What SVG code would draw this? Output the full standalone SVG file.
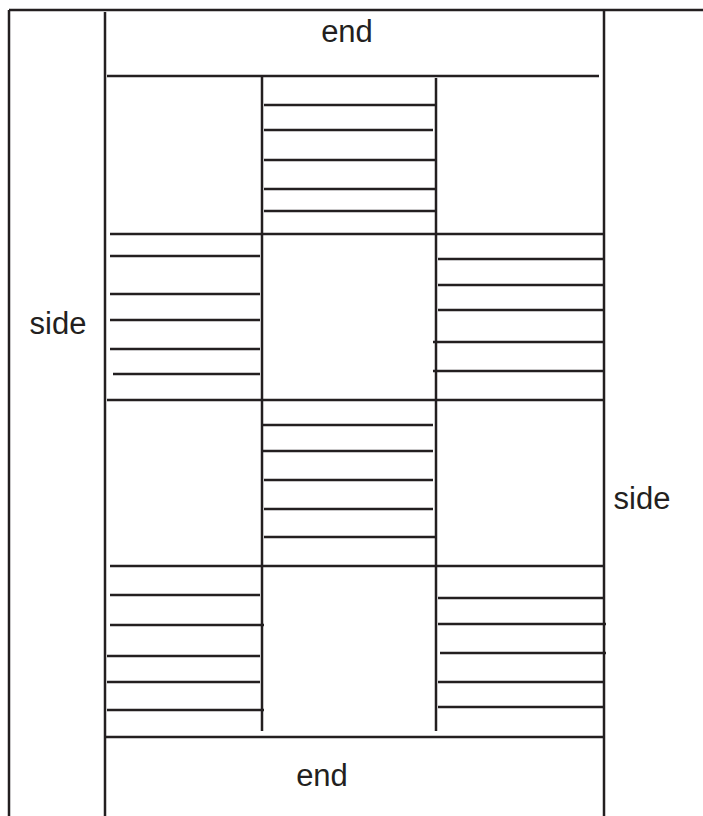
<svg xmlns="http://www.w3.org/2000/svg" width="703" height="816" viewBox="0 0 703 816">
<style>
line{stroke:#231f20;stroke-width:2.5;fill:none}
text{font-family:"Liberation Sans",Arial,sans-serif;font-size:31px;fill:#231f20;text-anchor:middle}
</style>
<rect x="0" y="0" width="703" height="816" fill="#ffffff"/>
<g id="frame">
<line x1="9" y1="10" x2="703" y2="10"/>
<line x1="9" y1="10" x2="9" y2="816"/>
<line x1="105" y1="12" x2="105" y2="816"/>
<line x1="604" y1="10" x2="604" y2="816"/>
<line x1="107" y1="76" x2="599" y2="76"/>
<line x1="105" y1="737" x2="604" y2="737"/>
<line x1="262" y1="77" x2="262" y2="731"/>
<line x1="436" y1="78" x2="436" y2="731"/>
<line x1="110" y1="234" x2="604" y2="234"/>
<line x1="107" y1="400" x2="604" y2="400"/>
<line x1="110" y1="566" x2="604" y2="566"/>
</g>
<g id="top-middle">
<line x1="264" y1="105" x2="436" y2="105"/>
<line x1="264" y1="130" x2="433" y2="130"/>
<line x1="264" y1="160" x2="436" y2="160"/>
<line x1="264" y1="189" x2="436" y2="189"/>
<line x1="264" y1="211" x2="436" y2="211"/>
</g>
<g id="left-upper">
<line x1="110" y1="256" x2="260" y2="256"/>
<line x1="110" y1="294" x2="260" y2="294"/>
<line x1="110" y1="320" x2="260" y2="320"/>
<line x1="110" y1="349" x2="260" y2="349"/>
<line x1="113" y1="374" x2="260" y2="374"/>
</g>
<g id="right-upper">
<line x1="438" y1="259" x2="604" y2="259"/>
<line x1="438" y1="285" x2="604" y2="285"/>
<line x1="438" y1="310" x2="604" y2="310"/>
<line x1="433" y1="342" x2="604" y2="342"/>
<line x1="433" y1="371" x2="604" y2="371"/>
</g>
<g id="middle-lower">
<line x1="261" y1="425" x2="433" y2="425"/>
<line x1="261" y1="451" x2="433" y2="451"/>
<line x1="264" y1="480" x2="433" y2="480"/>
<line x1="264" y1="509" x2="433" y2="509"/>
<line x1="264" y1="537" x2="436" y2="537"/>
</g>
<g id="left-lower">
<line x1="110" y1="595" x2="260" y2="595"/>
<line x1="110" y1="625" x2="264" y2="625"/>
<line x1="107" y1="656" x2="260" y2="656"/>
<line x1="107" y1="682" x2="260" y2="682"/>
<line x1="107" y1="710" x2="264" y2="710"/>
</g>
<g id="right-lower">
<line x1="438" y1="598" x2="604" y2="598"/>
<line x1="438" y1="624" x2="606" y2="624"/>
<line x1="440" y1="653" x2="606" y2="653"/>
<line x1="438" y1="682" x2="604" y2="682"/>
<line x1="438" y1="707" x2="604" y2="707"/>
</g>
<g id="labels">
<text id="end-top" x="347" y="42">end</text>
<text id="side-left" x="58" y="334">side</text>
<text id="side-right" x="642" y="509">side</text>
<text id="end-bottom" x="322" y="786">end</text>
</g>
</svg>
